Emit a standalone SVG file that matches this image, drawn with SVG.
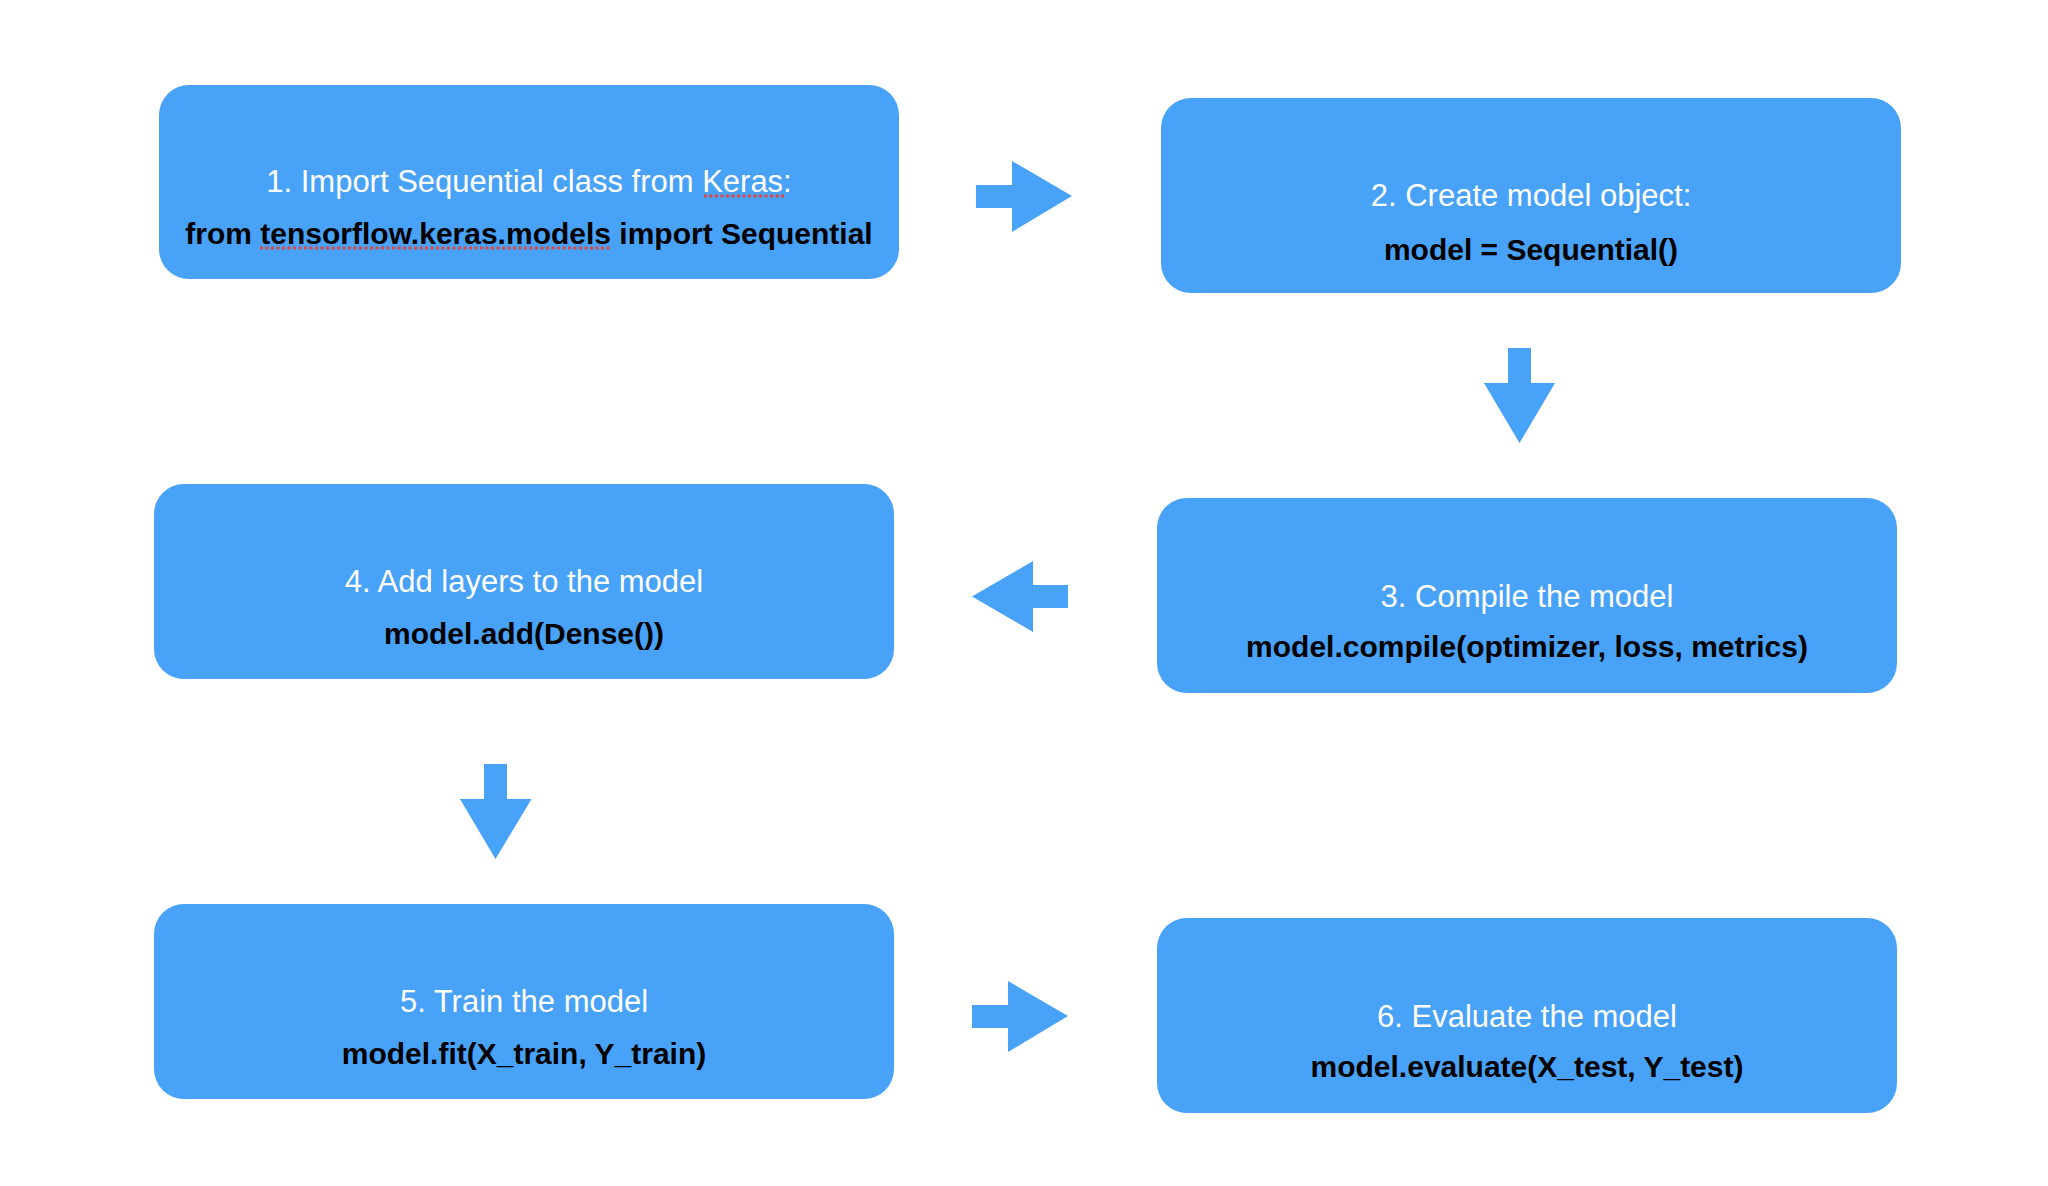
<svg xmlns="http://www.w3.org/2000/svg" width="2048" height="1186" viewBox="0 0 2048 1186">
<style>
.box{fill:#48a2f8;}
.t1{font-family:"Liberation Sans",Arial,sans-serif;font-size:31px;fill:#ffffff;text-anchor:middle;}
.t2{font-family:"Liberation Sans",Arial,sans-serif;font-size:30px;font-weight:bold;fill:#000000;text-anchor:middle;}
.arrow{fill:#48a2f8;}
.spell{stroke:#e2473b;stroke-width:3;stroke-dasharray:3 2.5;fill:none;}
</style>
<rect width="2048" height="1186" fill="#ffffff"/>
<g id="node1">
<rect class="box" x="159" y="85" width="740" height="194" rx="30" ry="30"/>
<text class="t1" x="529" y="192">1. Import Sequential class from Keras:</text>
<text class="t2" x="529" y="244">from tensorflow.keras.models import Sequential</text>
<line class="spell" x1="704" y1="196" x2="784" y2="196"/>
<line class="spell" x1="260" y1="248" x2="611" y2="248"/>
</g>
<g id="node2">
<rect class="box" x="1161" y="98" width="740" height="195" rx="30" ry="30"/>
<text class="t1" x="1531" y="206">2. Create model object:</text>
<text class="t2" x="1531" y="260">model = Sequential()</text>
</g>
<g id="node3">
<rect class="box" x="1157" y="498" width="740" height="195" rx="30" ry="30"/>
<text class="t1" x="1527" y="607">3. Compile the model</text>
<text class="t2" x="1527" y="657">model.compile(optimizer, loss, metrics)</text>
</g>
<g id="node4">
<rect class="box" x="154" y="484" width="740" height="195" rx="30" ry="30"/>
<text class="t1" x="524" y="592">4. Add layers to the model</text>
<text class="t2" x="524" y="644">model.add(Dense())</text>
</g>
<g id="node5">
<rect class="box" x="154" y="904" width="740" height="195" rx="30" ry="30"/>
<text class="t1" x="524" y="1012">5. Train the model</text>
<text class="t2" x="524" y="1064">model.fit(X_train, Y_train)</text>
</g>
<g id="node6">
<rect class="box" x="1157" y="918" width="740" height="195" rx="30" ry="30"/>
<text class="t1" x="1527" y="1027">6. Evaluate the model</text>
<text class="t2" x="1527" y="1077">model.evaluate(X_test, Y_test)</text>
</g>
<g id="connectors">
<polygon id="arrow1-2" class="arrow" points="976,185 1012,185 1012,161 1072,196 1012,232 1012,208 976,208"/>
<polygon id="arrow2-3" class="arrow" points="1508,348 1531,348 1531,383 1555,383 1519.5,443 1484,383 1508,383"/>
<polygon id="arrow3-4" class="arrow" points="1068,585 1033,585 1033,561 972,596.5 1033,632 1033,608 1068,608"/>
<polygon id="arrow4-5" class="arrow" points="484,764 507,764 507,799 531.5,799 495.5,859 460,799 484,799"/>
<polygon id="arrow5-6" class="arrow" points="972,1005 1008,1005 1008,981 1068,1016 1008,1052 1008,1028 972,1028"/>
</g>
</svg>
